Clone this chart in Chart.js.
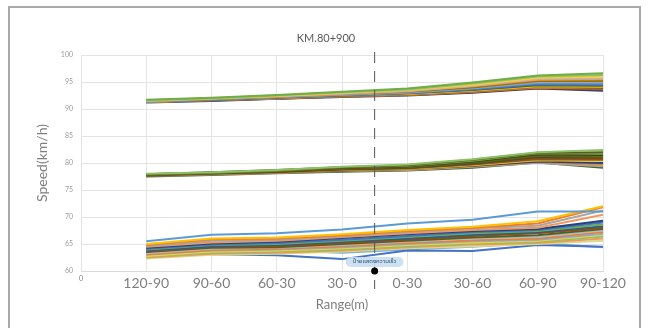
<!DOCTYPE html>
<html lang="en">
<head>
<meta charset="UTF-8">
<title>KM.80+900</title>
<script src="https://cdn.jsdelivr.net/npm/chart.js"></script>
<style>
  body { margin: 0; background: #fff; }
  #wrap { position: relative; width: 651px; height: 328px; }
  #frame { position: absolute; left: 8px; top: 6px; width: 633px; height: 330px; border: 2px solid #a8a8a8; box-sizing: border-box; }
  canvas { position: absolute; left: 0; top: 0; }
</style>
</head>
<body>
<div id="wrap">
  <div id="frame"></div>
  <canvas id="myChart" width="651" height="328"></canvas>
</div>
<script>
// categories along the x axis (placed at 1..8, the axis starts at 0)
var categories = ['120-90', '90-60', '60-30', '30-0', '0-30', '30-60', '60-90', '90-120'];
var chartTitle = 'KM.80+900';

// speed runs, high speed group
var highGroup = [
  [91.7, 92.1, 92.6, 93.2, 93.8, 94.9, 96.2, 96.6],
  [91.6, 92.0, 92.5, 93.1, 93.6, 94.7, 96.0, 96.3],
  [91.6, 92.0, 92.4, 93.0, 93.5, 94.5, 95.8, 96.0],
  [91.5, 91.9, 92.4, 92.9, 93.4, 94.3, 95.6, 95.7],
  [91.5, 91.9, 92.3, 92.8, 93.3, 94.2, 95.4, 95.5],
  [91.5, 91.8, 92.3, 92.8, 93.2, 94.0, 95.2, 95.2],
  [91.4, 91.8, 92.2, 92.7, 93.1, 93.9, 95.0, 95.0],
  [91.4, 91.8, 92.2, 92.6, 93.0, 93.8, 94.8, 94.7],
  [91.4, 91.7, 92.1, 92.6, 92.9, 93.6, 94.6, 94.5],
  [91.4, 91.7, 92.1, 92.5, 92.9, 93.5, 94.4, 94.3],
  [91.3, 91.7, 92.0, 92.5, 92.8, 93.4, 94.2, 94.1],
  [91.3, 91.6, 92.0, 92.4, 92.7, 93.3, 94.1, 93.9],
  [91.3, 91.6, 92.0, 92.3, 92.6, 93.2, 94.0, 93.8],
  [91.3, 91.6, 91.9, 92.3, 92.6, 93.1, 93.9, 93.6],
  [91.2, 91.5, 91.9, 92.2, 92.5, 93.0, 93.8, 93.4]
];
var highColors = ['#70AD47', '#8CC168', '#FFCD33', '#B7B7B7', '#F1975A', '#997300', '#A5A5A5', '#5B9BD5',
                  '#4472C4', '#43682B', '#FFC000', '#636363', '#ED7D31', '#9E480E', '#264478'];

// middle speed group
var midGroup = [
  [78.0, 78.3, 78.7, 79.3, 79.7, 80.7, 82.0, 82.4],
  [77.9, 78.3, 78.7, 79.2, 79.6, 80.6, 81.9, 82.0],
  [77.9, 78.2, 78.6, 79.2, 79.5, 80.4, 81.8, 81.7],
  [77.9, 78.2, 78.6, 79.1, 79.4, 80.3, 81.6, 81.5],
  [77.8, 78.2, 78.5, 79.0, 79.3, 80.2, 81.5, 81.3],
  [77.8, 78.1, 78.5, 79.0, 79.2, 80.0, 81.3, 81.1],
  [77.8, 78.1, 78.4, 78.9, 79.1, 79.9, 81.1, 81.0],
  [77.7, 78.1, 78.4, 78.8, 79.1, 79.8, 80.9, 80.8],
  [77.7, 78.0, 78.3, 78.8, 79.0, 79.7, 80.7, 80.6],
  [77.7, 78.0, 78.3, 78.7, 78.9, 79.6, 80.5, 80.4],
  [77.6, 78.0, 78.3, 78.6, 78.9, 79.5, 80.3, 80.0],
  [77.6, 77.9, 78.2, 78.6, 78.8, 79.4, 80.2, 79.7],
  [77.6, 77.9, 78.2, 78.5, 78.7, 79.3, 80.0, 79.4],
  [77.5, 77.8, 78.1, 78.4, 78.6, 79.1, 80.1, 79.1]
];
var midColors = ['#8CC168', '#5E5A22', '#70AD47', '#3F3F1F', '#7F6000', '#43682B', '#4D4A1E', '#9E480E',
                 '#636363', '#FFC000', '#264478', '#ED7D31', '#A5A5A5', '#43682B'];

// low speed group
var lowGroup = [
  [65.5, 66.7, 67.0, 67.7, 68.8, 69.5, 71.0, 71.0],
  [65.0, 66.0, 66.2, 66.8, 67.6, 68.2, 69.2, 72.0],
  [64.8, 65.9, 66.0, 66.6, 67.4, 68.0, 68.8, 71.8],
  [64.6, 65.6, 65.8, 66.5, 67.2, 67.9, 68.4, 71.2],
  [64.5, 65.3, 65.6, 66.3, 67.0, 67.6, 68.0, 70.4],
  [64.3, 65.1, 65.4, 66.1, 66.8, 67.4, 67.8, 69.3],
  [64.1, 64.9, 65.2, 65.8, 66.5, 67.2, 67.6, 69.0],
  [64.0, 64.8, 65.0, 65.6, 66.3, 67.0, 67.4, 68.6],
  [63.8, 64.6, 64.8, 65.4, 66.0, 66.7, 67.2, 68.3],
  [63.6, 64.5, 64.6, 65.2, 65.8, 66.5, 67.0, 68.0],
  [63.5, 64.3, 64.4, 65.0, 65.6, 66.2, 66.6, 67.8],
  [63.3, 64.1, 64.3, 64.8, 65.4, 66.0, 66.3, 67.5],
  [63.1, 63.9, 64.1, 64.6, 65.2, 65.7, 66.0, 67.2],
  [63.0, 63.8, 64.0, 64.4, 65.0, 65.5, 65.8, 66.9],
  [62.8, 63.6, 63.8, 64.2, 64.8, 65.3, 65.6, 66.7],
  [62.7, 63.4, 63.6, 64.0, 64.6, 65.1, 65.4, 66.4],
  [62.5, 63.2, 63.4, 63.8, 64.4, 64.9, 65.2, 66.0],
  [62.3, 63.0, 63.2, 63.6, 64.2, 64.6, 65.0, 65.6],
  [63.5, 63.1, 62.9, 62.2, 63.8, 63.7, 64.8, 64.5],
  [64.2, 64.0, 63.8, 63.4, 64.0, 64.5, 65.2, 64.4]
];
var lowColors = ['#5B9BD5', '#FFC000', '#ED7D31', '#A5A5A5', '#F1975A', '#264478', '#4472C4', '#70AD47',
                 '#255E91', '#9E480E', '#43682B', '#B7B7B7', '#ED7D31', '#7CAFDD', '#FFCD33', '#8CC168',
                 '#F1975A', '#D6DC8E', '#4472C4', '#7CAFDD'];

// sign marker between 30-0 and 0-30
var signX = 4.5;
var signY = 60;
var signLabel = 'ป้ายแสดงความเร็ว';

var datasets = [];
function addGroup(group, colors) {
  group.forEach(function (vals, k) {
    datasets.push({
      data: vals.map(function (v, i) { return { x: i + 1, y: v }; }),
      borderColor: colors[k % colors.length],
      borderWidth: 2,
      pointRadius: 0,
      fill: false,
      tension: 0
    });
  });
}
addGroup(highGroup, highColors);
addGroup(midGroup, midColors);
addGroup(lowGroup, lowColors);

var signPlugin = {
  id: 'signMarker',
  afterDatasetsDraw: function (chart) {
    var ctx = chart.ctx;
    var xs = chart.scales.x, ys = chart.scales.y;
    var px = xs.getPixelForValue(signX);
    var py = ys.getPixelForValue(signY);
    ctx.save();
    // title, centred on the whole frame
    ctx.font = '11px Lato, "Open Sans", sans-serif';
    ctx.fillStyle = '#595959';
    ctx.textAlign = 'center';
    ctx.textBaseline = 'middle';
    ctx.fillText(chartTitle, 326, 38);
    // dashed line
    ctx.strokeStyle = '#555';
    ctx.lineWidth = 1;
    ctx.setLineDash([11, 8]);
    ctx.beginPath();
    ctx.moveTo(px, ys.getPixelForValue(100) - 3);
    ctx.lineTo(px, chart.chartArea.bottom + 18);
    ctx.stroke();
    ctx.setLineDash([]);
    // label box
    ctx.font = '6px "Noto Sans Thai", "Noto Sans", sans-serif';
    var w = ctx.measureText(signLabel).width + 14;
    var bx = px - w / 2, by = py - 14, bh = 10;
    ctx.fillStyle = 'rgba(200, 222, 242, 0.9)';
    ctx.beginPath();
    ctx.roundRect(bx, by, w, bh, 5);
    ctx.fill();
    ctx.fillStyle = '#2f4f6f';
    ctx.fillText(signLabel, px, by + bh / 2);
    // dot
    ctx.fillStyle = '#000';
    ctx.beginPath();
    ctx.arc(px, py, 3.5, 0, Math.PI * 2);
    ctx.fill();
    ctx.restore();
  }
};

var ctx = document.getElementById('myChart').getContext('2d');
var myChart = new Chart(ctx, {
  type: 'line',
  data: { datasets: datasets },
  options: {
    responsive: false,
    animation: false,
    layout: { padding: { left: 0, right: 48, top: 55, bottom: 0 } },
    plugins: {
      legend: { display: false },
      tooltip: { enabled: false },
      title: { display: false }
    },
    scales: {
      x: {
        type: 'linear',
        min: 0,
        max: 8,
        ticks: {
          stepSize: 1,
          padding: 4,
          color: '#7f7f7f',
          maxRotation: 0,
          autoSkip: false,
          font: function (c) {
            if (c.tick && c.tick.value === 0) return { family: 'Lato, sans-serif', size: 7 };
            return { family: 'Lato, "Open Sans", sans-serif', size: 14 };
          },
          callback: function (v) { return v === 0 ? '0' : categories[v - 1]; }
        },
        grid: { color: '#e4e4e4', drawTicks: false },
        border: { color: '#d9d9d9' },
        title: {
          display: true,
          text: 'Range(m)',
          color: '#7f7f7f',
          font: { family: 'Lato, "Open Sans", sans-serif', size: 13 },
          padding: { top: 0, bottom: 15 }
        },
        afterFit: function (s) { s.height = 57; }
      },
      y: {
        min: 60,
        max: 100,
        ticks: {
          stepSize: 5,
          padding: 8,
          color: '#9a9a9a',
          font: { family: 'Lato, sans-serif', size: 7 }
        },
        grid: { color: '#e4e4e4', drawTicks: false },
        border: { color: '#e4e4e4' },
        title: {
          display: true,
          text: 'Speed(km/h)',
          color: '#7f7f7f',
          font: { family: 'Lato, "Open Sans", sans-serif', size: 14 },
          padding: { top: 34, bottom: 0 }
        },
        afterFit: function (s) { s.width = 81; }
      }
    }
  },
  plugins: [signPlugin]
});
</script>
</body>
</html>
